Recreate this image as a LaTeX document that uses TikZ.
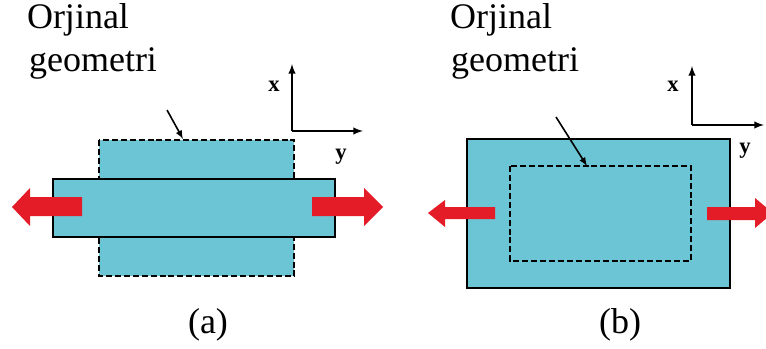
\documentclass[tikz,border=0pt]{standalone}
\usepackage{fontspec}
\IfFontExistsTF{LiberationSerif-Regular.ttf}
  {\setmainfont{LiberationSerif}[Extension=.ttf, UprightFont=*-Regular, BoldFont=*-Bold, ItalicFont=*-Italic, BoldItalicFont=*-BoldItalic]}
  {\setmainfont{Liberation Serif}}
\definecolor{plate}{RGB}{107,197,212}
\definecolor{pull}{RGB}{228,28,40}
\tikzset{
  solidbox/.style={draw=black, line width=0.8pt, fill=plate},
  dashbox/.style={draw=black, line width=1.5pt, dash pattern=on 4.5pt off 2.2pt, fill=plate},
  dashline/.style={draw=black, line width=1.5pt, dash pattern=on 4.5pt off 2.2pt},
  axisarrow/.style={line width=1.5pt, -latex},
  pointer/.style={line width=1.2pt, -latex},
  redarrow/.style={fill=pull, draw=none},
  bigtext/.style={font=\rmfamily\fontsize{27}{32}\selectfont, anchor=base},
  axlab/.style={font=\bfseries\fontsize{17}{20}\selectfont}
}
\begin{document}
\begin{tikzpicture}[x=0.75pt,y=-0.75pt]
\useasboundingbox (0,0) rectangle (766,349);
% ---------- panel (a) ----------
\path[dashbox] (99,140) rectangle (294,276);
\path[solidbox] (53,179) rectangle (335,237);
\coordinate (adtop) at (183,139);
\coordinate (aptr) at (167,110);
\draw[pointer] (aptr) -- (adtop);
\path[redarrow] (82,197) -- (30,197) -- (30,188) -- (12,207) -- (30,226) -- (30,216) -- (82,216) -- cycle;
\path[redarrow] (312,197) -- (364,197) -- (364,188) -- (383,207) -- (364,226) -- (364,216) -- (312,216) -- cycle;
\coordinate (ao) at (292,131);
\coordinate (ax) at (292,64);
\coordinate (ay) at (363,131);
\draw[axisarrow] (ao) -- (ax);
\draw[axisarrow] (ao) -- (ay);
\node[axlab] (axl) at (274,86) {x};
\node[axlab] (ayl) at (341,157) {y};
% ---------- panel (b) ----------
\path[solidbox] (467,139) rectangle (730,288);
\path[dashline] (510,166) rectangle (691,261);
\coordinate (bdtop) at (587,166);
\coordinate (bptr) at (556,117);
\draw[pointer] (bptr) -- (bdtop);
\path[redarrow] (495,207) -- (445,207) -- (445,200) -- (428,213) -- (445,227) -- (445,219) -- (495,219) -- cycle;
\path[redarrow] (707,207) -- (755,207) -- (755,198) -- (766,207.2) -- (766,218.8) -- (755,228) -- (755,220) -- (707,220) -- cycle;
\coordinate (bo) at (692,125);
\coordinate (bx) at (692,66);
\coordinate (by) at (764,125);
\draw[axisarrow] (bo) -- (bx);
\draw[axisarrow] (bo) -- (by);
\node[axlab] (bxl) at (673,86) {x};
\node[axlab] (byl) at (745,151) {y};
% ---------- texts ----------
\node[bigtext] (at1) at (78,29) {Orjinal};
\node[bigtext] (at2) at (93,72) {geometri};
\node[bigtext] (acap) at (208,333) {(a)};
\node[bigtext] (bt1) at (501,29) {Orjinal};
\node[bigtext] (bt2) at (515,72) {geometri};
\node[bigtext] (bcap) at (620,333) {(b)};
\end{tikzpicture}
\end{document}
